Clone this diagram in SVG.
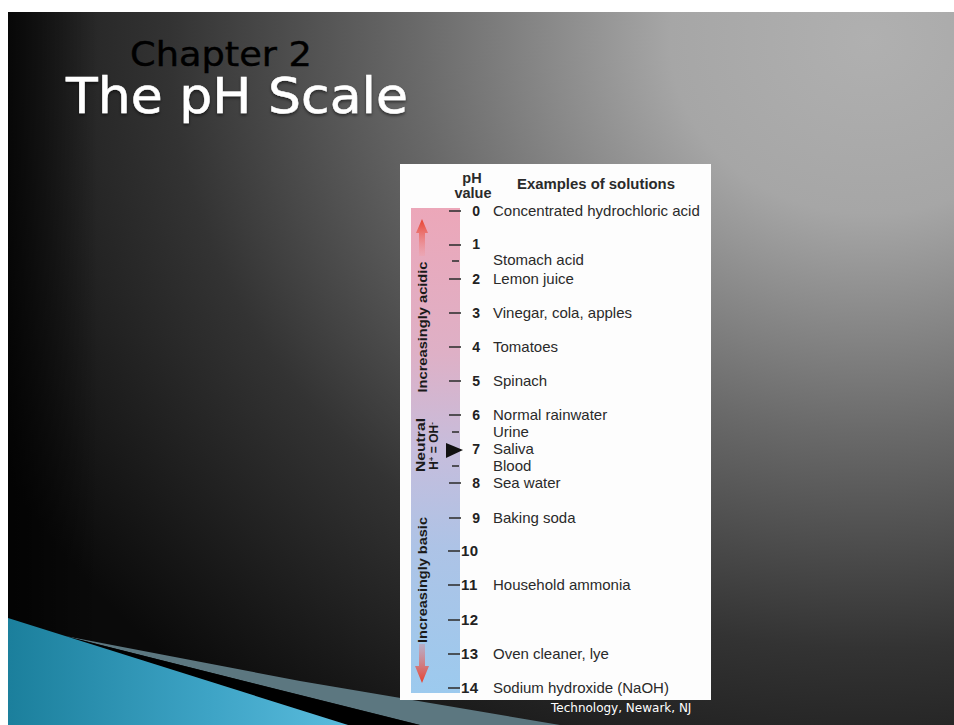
<svg xmlns="http://www.w3.org/2000/svg" width="954" height="725" viewBox="0 0 954 725">
  <defs>
    <radialGradient id="bgGlow" gradientUnits="userSpaceOnUse" cx="0" cy="0" r="1000" gradientTransform="translate(870 40) scale(1 0.87)">
      <stop offset="0" stop-color="#b0b0b0"/>
      <stop offset="0.2" stop-color="#a6a6a6"/>
      <stop offset="0.45" stop-color="#6a6a6a"/>
      <stop offset="0.7" stop-color="#333333"/>
      <stop offset="1" stop-color="#0a0a0a"/>
    </radialGradient>
    <linearGradient id="edgeShade" x1="0" y1="0" x2="1" y2="0">
      <stop offset="0" stop-color="#000" stop-opacity="0.75"/>
      <stop offset="1" stop-color="#000" stop-opacity="0"/>
    </linearGradient>
    <linearGradient id="tealFill" x1="0" y1="0" x2="1" y2="0">
      <stop offset="0" stop-color="#1b7f9c"/>
      <stop offset="0.6" stop-color="#3ea4c6"/>
      <stop offset="1" stop-color="#5bbcdd"/>
    </linearGradient>
    <linearGradient id="scaleFill" x1="0" y1="0" x2="0" y2="1">
      <stop offset="0" stop-color="#eca7b9"/>
      <stop offset="0.3" stop-color="#deb0c6"/>
      <stop offset="0.5" stop-color="#c6bddc"/>
      <stop offset="0.7" stop-color="#adc3e6"/>
      <stop offset="1" stop-color="#9ccaee"/>
    </linearGradient>
    <linearGradient id="arrowUp" x1="0" y1="0" x2="0" y2="1">
      <stop offset="0" stop-color="#e8402c"/>
      <stop offset="1" stop-color="#f0a0a8" stop-opacity="0.4"/>
    </linearGradient>
    <linearGradient id="arrowDown" x1="0" y1="1" x2="0" y2="0">
      <stop offset="0" stop-color="#e8402c"/>
      <stop offset="1" stop-color="#e87070" stop-opacity="0.3"/>
    </linearGradient>
    <filter id="titleShadow" x="-10%" y="-20%" width="120%" height="150%">
      <feDropShadow dx="0" dy="2" stdDeviation="1.5" flood-color="#000" flood-opacity="0.5"/>
    </filter>
  </defs>
  <style>
    .tick { stroke: #333; stroke-width: 1.6; }
    .num { font-family: "Liberation Sans", Arial, sans-serif; font-weight: bold; font-size: 14px; fill: #222; text-anchor: end; }
    .num2 { font-family: "Liberation Sans", Arial, sans-serif; font-weight: bold; font-size: 15px; fill: #222; letter-spacing: 0.5px; }
    .lbl { font-family: "Liberation Sans", Arial, sans-serif; font-size: 15px; fill: #2a2a2a; }
    .hdr { font-family: "Liberation Sans", Arial, sans-serif; font-weight: bold; font-size: 14.5px; fill: #2a2a2a; }
    .vert { font-family: "Liberation Sans", Arial, sans-serif; font-weight: bold; font-size: 12px; fill: #1a1a1a; }
  </style>

  <!-- page and slide background -->
  <rect x="0" y="0" width="954" height="725" fill="#ffffff"/>
  <rect x="8" y="12" width="946" height="713" fill="url(#bgGlow)"/>
  <rect x="8" y="12" width="90" height="713" fill="url(#edgeShade)"/>

  <!-- lower-left decorative wedges -->
  <g id="wedges">
    <polygon points="65,636 300,681 560,725 420,725" fill="#5c7780"/>
    <polygon points="65,636 420,725 348,725" fill="#000000"/>
    <polygon points="8,618 348,725 8,725" fill="url(#tealFill)"/>
  </g>

  <!-- titles -->
  <g id="title">
    <text x="130" y="66" font-family="'DejaVu Sans', Verdana, sans-serif" font-size="33" fill="#000" stroke="#000" stroke-width="0.4" textLength="182" lengthAdjust="spacingAndGlyphs">Chapter 2</text>
    <text x="66" y="113" font-family="'DejaVu Sans', Verdana, sans-serif" font-size="49" fill="#ffffff" stroke="#ffffff" stroke-width="0.5" filter="url(#titleShadow)" textLength="342" lengthAdjust="spacingAndGlyphs">The pH Scale</text>
  </g>

  <!-- pH scale chart -->
  <g id="ph-chart">
    <rect x="400" y="164" width="311" height="536" fill="#fdfdfd"/>
    <rect x="411" y="208" width="49" height="485" fill="url(#scaleFill)"/>

    <text class="hdr" x="472" y="183" text-anchor="middle">pH</text>
    <text class="hdr" x="473" y="198" text-anchor="middle">value</text>
    <text class="hdr" x="517" y="189" textLength="158" lengthAdjust="spacingAndGlyphs">Examples of solutions</text>

    <!-- direction arrows -->
    <polygon points="419,256 425,256 425,233 428,233 422,219 416,233 419,233" fill="url(#arrowUp)"/>
    <polygon points="419,644 425,644 425,666 429,666 422,683 415,666 419,666" fill="url(#arrowDown)"/>

    <!-- region captions -->
    <text class="vert" transform="translate(427 327) rotate(-90)" text-anchor="middle" textLength="131" lengthAdjust="spacingAndGlyphs">Increasingly acidic</text>
    <text class="vert" transform="translate(425 445) rotate(-90)" text-anchor="middle" font-size="13" textLength="54" lengthAdjust="spacingAndGlyphs">Neutral</text>
    <text class="vert" transform="translate(438 446) rotate(-90)" text-anchor="middle" font-size="13">H<tspan baseline-shift="super" font-size="8">+</tspan> = OH<tspan baseline-shift="super" font-size="8">-</tspan></text>
    <text class="vert" transform="translate(427 580) rotate(-90)" text-anchor="middle" textLength="126" lengthAdjust="spacingAndGlyphs">Increasingly basic</text>

    <!-- neutral marker -->
    <polygon points="446,443 463,450 446,458" fill="#111"/>

    <!-- ticks -->
    <g id="ticks">
      <line class="tick" x1="449" y1="211" x2="461" y2="211"/>
      <line class="tick" x1="449" y1="245" x2="461" y2="245"/>
      <line class="tick" x1="452" y1="261" x2="459" y2="261"/>
      <line class="tick" x1="449" y1="279" x2="461" y2="279"/>
      <line class="tick" x1="449" y1="313" x2="461" y2="313"/>
      <line class="tick" x1="449" y1="347" x2="461" y2="347"/>
      <line class="tick" x1="449" y1="381" x2="461" y2="381"/>
      <line class="tick" x1="449" y1="415" x2="461" y2="415"/>
      <line class="tick" x1="452" y1="432" x2="459" y2="432"/>
      <line class="tick" x1="452" y1="466" x2="459" y2="466"/>
      <line class="tick" x1="449" y1="483" x2="461" y2="483"/>
      <line class="tick" x1="449" y1="518" x2="461" y2="518"/>
      <line class="tick" x1="448" y1="551" x2="460" y2="551"/>
      <line class="tick" x1="448" y1="585" x2="460" y2="585"/>
      <line class="tick" x1="448" y1="620" x2="460" y2="620"/>
      <line class="tick" x1="448" y1="654" x2="460" y2="654"/>
      <line class="tick" x1="448" y1="688" x2="460" y2="688"/>
    </g>

    <!-- pH values -->
    <g id="values">
      <text class="num" x="480" y="216">0</text>
      <text class="num" x="480" y="249">1</text>
      <text class="num" x="480" y="284">2</text>
      <text class="num" x="480" y="318">3</text>
      <text class="num" x="480" y="352">4</text>
      <text class="num" x="480" y="386">5</text>
      <text class="num" x="480" y="420">6</text>
      <text class="num" x="480" y="454">7</text>
      <text class="num" x="480" y="488">8</text>
      <text class="num" x="480" y="523">9</text>
      <text class="num2" x="461" y="556">10</text>
      <text class="num2" x="461" y="590">11</text>
      <text class="num2" x="461" y="625">12</text>
      <text class="num2" x="461" y="659">13</text>
      <text class="num2" x="461" y="693">14</text>
    </g>

    <!-- example solutions -->
    <g id="examples">
      <text class="lbl" x="493" y="216">Concentrated hydrochloric acid</text>
      <text class="lbl" x="493" y="265">Stomach acid</text>
      <text class="lbl" x="493" y="284">Lemon juice</text>
      <text class="lbl" x="493" y="318">Vinegar, cola, apples</text>
      <text class="lbl" x="493" y="352">Tomatoes</text>
      <text class="lbl" x="493" y="386">Spinach</text>
      <text class="lbl" x="493" y="420">Normal rainwater</text>
      <text class="lbl" x="493" y="437">Urine</text>
      <text class="lbl" x="493" y="454">Saliva</text>
      <text class="lbl" x="493" y="471">Blood</text>
      <text class="lbl" x="493" y="488">Sea water</text>
      <text class="lbl" x="493" y="523">Baking soda</text>
      <text class="lbl" x="493" y="590">Household ammonia</text>
      <text class="lbl" x="493" y="659">Oven cleaner, lye</text>
      <text class="lbl" x="493" y="693">Sodium hydroxide (NaOH)</text>
    </g>
  </g>

  <!-- footer -->
  <text x="551" y="712" font-family="'DejaVu Sans', Verdana, sans-serif" font-size="12" fill="#ffffff">Technology, Newark, NJ</text>
</svg>
